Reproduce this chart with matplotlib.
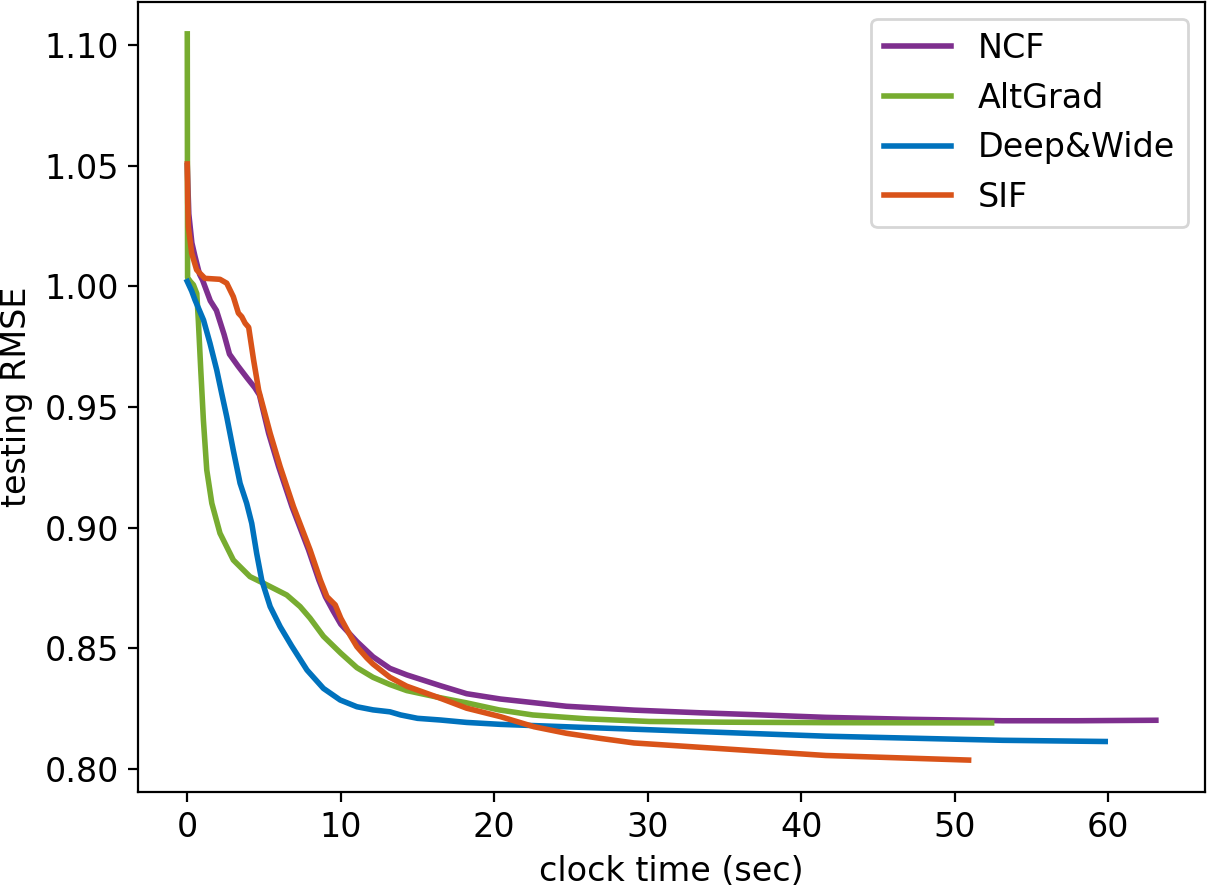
import matplotlib
matplotlib.use("Agg")
import matplotlib.pyplot as plt

plt.rcParams["font.size"] = 12

# NCF
ncf_x = [0, 0.1, 0.3, 0.5, 0.8, 1.0, 1.5, 1.9, 2.4, 2.75, 3.3, 3.9, 4.4, 4.7, 5.3, 5.95,
         6.82, 7.9, 8.57, 9.0, 9.5, 10.0, 10.8, 11.05, 12.1, 13.2, 14.3, 16.5, 18.2, 20.4,
         24.7, 29.1, 33.4, 37.0, 41.6, 47.0, 53.1, 58.0, 63.1]
ncf_y = [1.050, 1.030, 1.018, 1.0125, 1.005, 1.0025, 0.994, 0.990, 0.980, 0.9719, 0.967,
         0.962, 0.958, 0.955, 0.9391, 0.9253, 0.9087, 0.8908, 0.8783, 0.8714, 0.8655,
         0.8600, 0.8545, 0.8528, 0.8465, 0.8417, 0.8390, 0.8345, 0.8312, 0.8290, 0.8260,
         0.8244, 0.8233, 0.8225, 0.8214, 0.8206, 0.8200, 0.8200, 0.8202]

# AltGrad
alt_x = [0, 0.02, 0.2, 0.4, 0.62, 0.72, 0.88, 1.05, 1.27, 1.6, 2.13, 3.0, 4.09, 5.18,
         6.48, 7.35, 8.0, 8.87, 10.0, 11.05, 12.1, 13.2, 14.3, 16.5, 18.2, 20.3, 22.5,
         26.0, 30.1, 35.0, 42.0, 52.4]
alt_y = [1.1046, 1.0036, 1.002, 1.0006, 0.997, 0.986, 0.9653, 0.9446, 0.9239, 0.9101,
         0.8977, 0.8866, 0.8797, 0.8763, 0.8721, 0.8673, 0.8625, 0.855, 0.848, 0.842,
         0.838, 0.835, 0.8325, 0.8295, 0.8274, 0.8245, 0.8224, 0.8208, 0.8197, 0.8194,
         0.8192, 0.8191]

# Deep&Wide
dw_x = [0, 0.29, 0.5, 1.06, 1.48, 1.92, 2.24, 2.57, 3.0, 3.44, 3.87, 4.2, 4.52, 4.85,
        5.4, 6.05, 6.8, 7.8, 8.87, 9.96, 11.05, 12.1, 13.2, 13.9, 15.0, 16.5, 18.2, 20.4,
        24.7, 29.1, 33.4, 41.6, 53.1, 59.8]
dw_y = [1.002, 0.998, 0.9944, 0.986, 0.9764, 0.9653, 0.9557, 0.946, 0.932, 0.9184,
        0.9101, 0.9018, 0.8894, 0.8783, 0.8673, 0.859, 0.851, 0.841, 0.8334, 0.8286,
        0.8258, 0.8245, 0.8237, 0.8224, 0.8210, 0.8203, 0.8193, 0.8185, 0.8175, 0.8165,
        0.8155, 0.8136, 0.8119, 0.8114]

# SIF
sif_x = [0, 0.03, 0.07, 0.29, 0.61, 1.15, 2.13, 2.57, 3.0, 3.33, 3.55, 3.77, 4.0, 4.32,
         4.65, 5.4, 6.05, 6.92, 8.0, 8.67, 9.1, 9.4, 9.64, 10.0, 10.6, 11.05, 11.7, 12.1,
         13.2, 14.3, 15.4, 16.5, 18.2, 20.4, 22.6, 24.7, 26.9, 29.1, 33.4, 41.6, 50.9]
sif_y = [1.0507, 1.0344, 1.0247, 1.0137, 1.0068, 1.0033, 1.0029, 1.0013, 0.9957, 0.9889,
         0.9874, 0.9847, 0.9830, 0.9695, 0.957, 0.9391, 0.9253, 0.9087, 0.8908, 0.8783,
         0.8714, 0.8695, 0.868, 0.8625, 0.8555, 0.8507, 0.846, 0.8435, 0.838, 0.8343,
         0.8318, 0.8293, 0.8252, 0.8217, 0.8175, 0.8148, 0.8127, 0.8108, 0.8090, 0.8056,
         0.8037]

labels = ["NCF", "AltGrad", "Deep&Wide", "SIF"]
colors = ["#7E2F8E", "#77AC30", "#0072BD", "#D95319"]

W, H, DPI = 1207, 886, 200
fig = plt.figure(figsize=(W / DPI, H / DPI), dpi=DPI)
left, right, top, bottom = 138.3, 1205, 2, 791.7
ax = fig.add_axes([left / W, 1 - bottom / H, (right - left) / W, (bottom - top) / H])

series = [(ncf_x, ncf_y), (alt_x, alt_y), (dw_x, dw_y), (sif_x, sif_y)]
for (xs, ys), lab, c in zip(series, labels, colors):
    ax.plot(xs, ys, color=c, lw=2, label=lab)

ax.set_xlim(-3.19, 66.3)
ax.set_ylim(0.7906, 1.1178)
ax.set_xticks([0, 10, 20, 30, 40, 50, 60])
ax.set_yticks([0.80, 0.85, 0.90, 0.95, 1.00, 1.05, 1.10])
ax.set_xlabel("clock time (sec)")
ax.set_ylabel("testing RMSE")
ax.legend(loc="upper right")

fig.savefig("out.png", dpi=DPI)
